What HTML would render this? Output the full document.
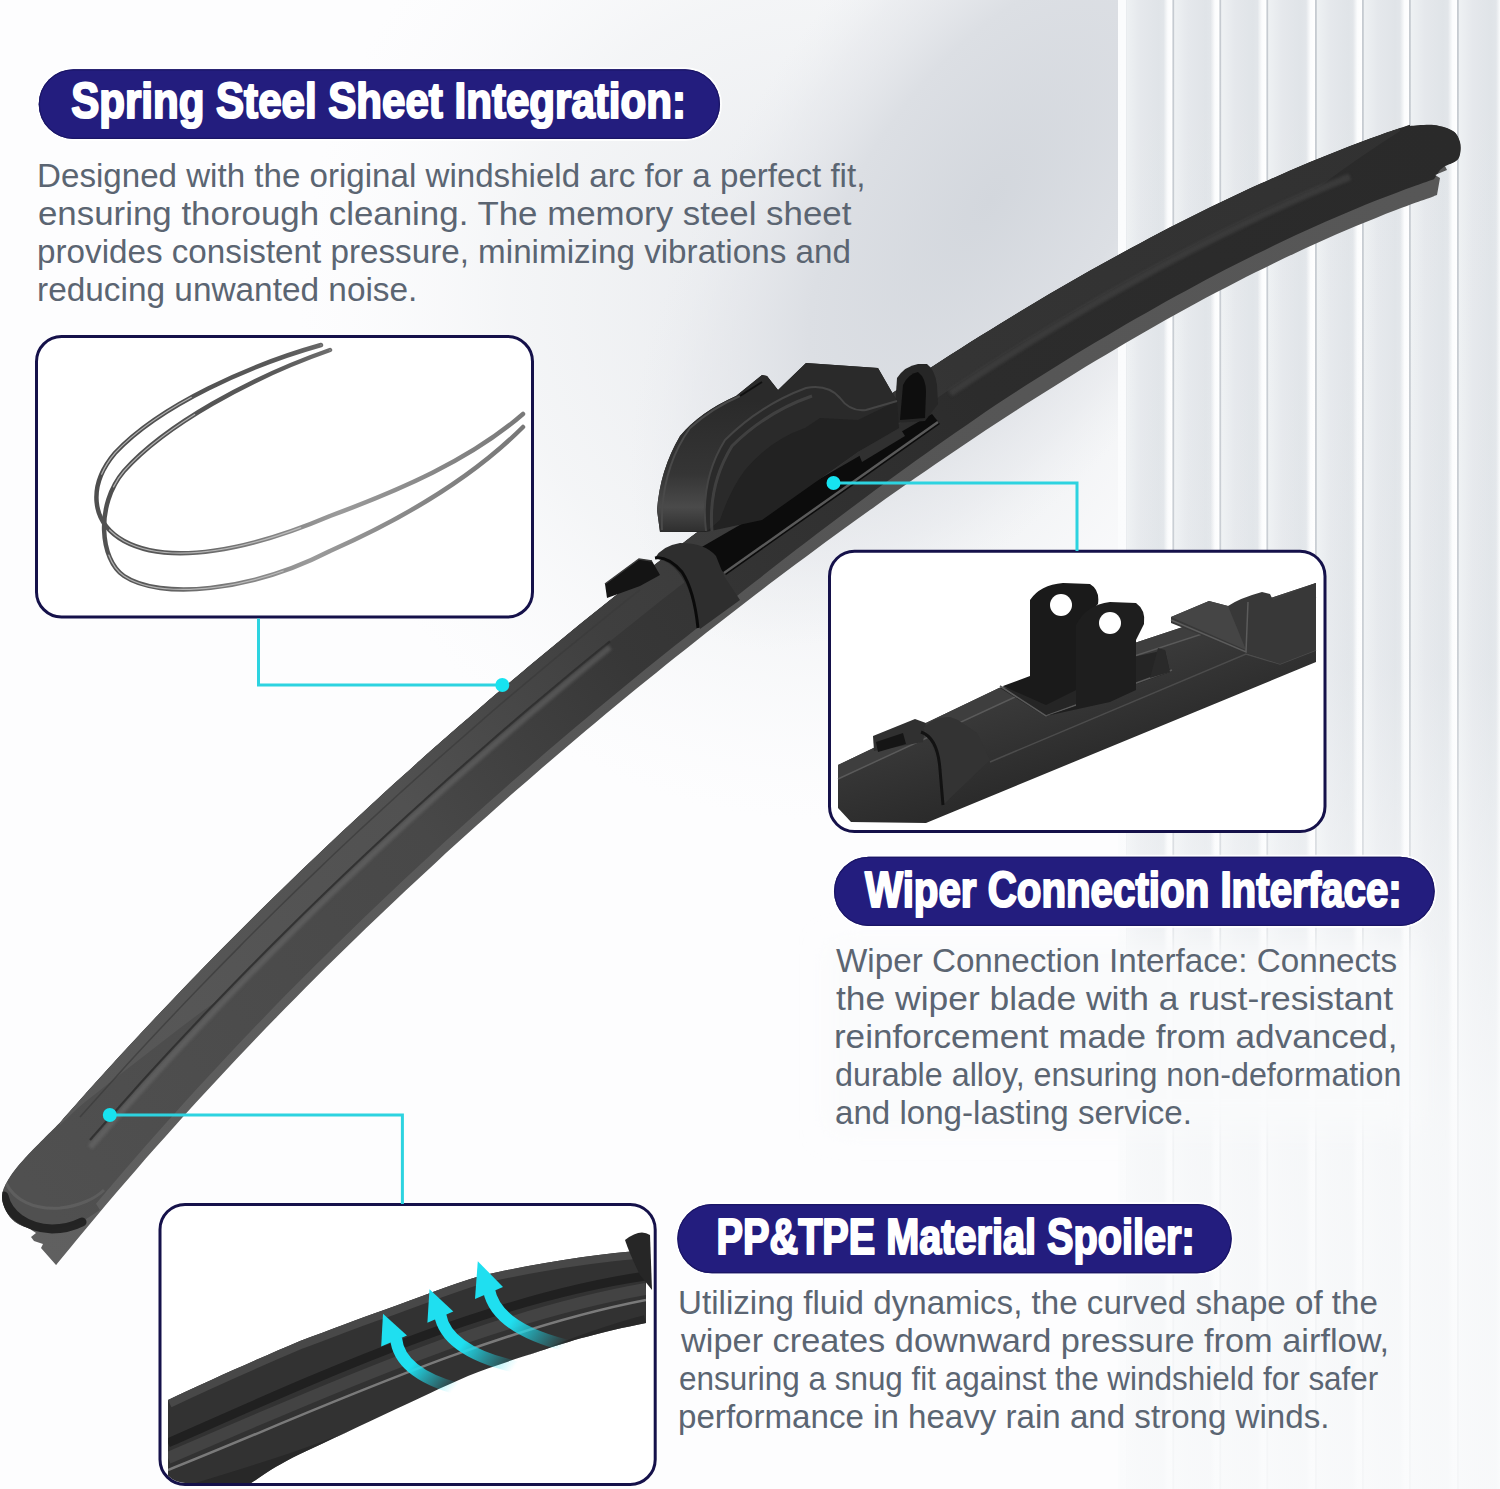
<!DOCTYPE html>
<html><head><meta charset="utf-8">
<style>
html,body{margin:0;padding:0;}
body{width:1500px;height:1489px;overflow:hidden;position:relative;background:#fdfdfe;font-family:"Liberation Sans",sans-serif;}
svg{position:absolute;left:0;top:0;}
.h{font:700 50px "Liberation Sans",sans-serif;fill:#ffffff;stroke:#ffffff;stroke-width:2.2px;stroke-linejoin:round;}
.b{font:400 34px "Liberation Sans",sans-serif;fill:#5b6572;}
</style></head><body>
<svg width="1500" height="1489" viewBox="0 0 1500 1489">
<defs>
 <radialGradient id="bg1" cx="0" cy="0" r="1" gradientUnits="userSpaceOnUse" gradientTransform="translate(990 200) rotate(125) scale(520 250)">
  <stop offset="0" stop-color="#d3d7dd"/><stop offset="0.5" stop-color="#dcdfe4"/><stop offset="0.8" stop-color="#e6e8ec" stop-opacity="0.6"/><stop offset="1" stop-color="#eceef1" stop-opacity="0"/>
 </radialGradient>
 <radialGradient id="bg2" cx="820" cy="300" r="520" gradientUnits="userSpaceOnUse">
  <stop offset="0" stop-color="#e6e8ec"/><stop offset="0.6" stop-color="#eef0f2" stop-opacity="0.6"/><stop offset="1" stop-color="#f6f7f9" stop-opacity="0"/>
 </radialGradient>
 <linearGradient id="flute" x1="0" y1="0" x2="47.5" y2="0" gradientUnits="userSpaceOnUse" spreadMethod="repeat">
  <stop offset="0" stop-color="#fbfcfd"/><stop offset="0.12" stop-color="#eef1f4"/><stop offset="0.5" stop-color="#dde2e8"/><stop offset="0.86" stop-color="#e9edf1"/><stop offset="0.93" stop-color="#ffffff"/><stop offset="0.955" stop-color="#b3bac3"/><stop offset="0.985" stop-color="#ffffff"/><stop offset="1" stop-color="#fbfcfd"/>
 </linearGradient>
 <pattern id="flutes" x="1127" y="0" width="47.5" height="1489" patternUnits="userSpaceOnUse">
  <rect width="47.5" height="1489" fill="url(#flute)"/>
 </pattern>
 <linearGradient id="fadeB" x1="0" y1="0" x2="0" y2="1489" gradientUnits="userSpaceOnUse">
  <stop offset="0" stop-color="#fafbfc" stop-opacity="0"/><stop offset="0.45" stop-color="#fafbfc" stop-opacity="0.1"/><stop offset="0.62" stop-color="#fafbfc" stop-opacity="0.55"/><stop offset="0.75" stop-color="#fafbfc" stop-opacity="0.82"/><stop offset="1" stop-color="#fafbfc" stop-opacity="0.9"/>
 </linearGradient>
 <linearGradient id="fadeL" x1="1120" y1="0" x2="1200" y2="0" gradientUnits="userSpaceOnUse">
  <stop offset="0" stop-color="#f7f8fa" stop-opacity="0.2"/><stop offset="1" stop-color="#f7f8fa" stop-opacity="0"/>
 </linearGradient>
 <linearGradient id="rubg" x1="40" y1="1250" x2="1440" y2="190" gradientUnits="userSpaceOnUse">
  <stop offset="0" stop-color="#606060"/><stop offset="0.5" stop-color="#555555"/><stop offset="1" stop-color="#575757"/>
 </linearGradient>
 <linearGradient id="bodyg" x1="40" y1="1200" x2="1450" y2="140" gradientUnits="userSpaceOnUse">
  <stop offset="0" stop-color="#505050"/><stop offset="0.3" stop-color="#484848"/><stop offset="0.45" stop-color="#373737"/><stop offset="0.7" stop-color="#2c2c2c"/><stop offset="1" stop-color="#2a2a2a"/>
 </linearGradient>
<linearGradient id="upfaceg" x1="40" y1="1200" x2="1450" y2="140" gradientUnits="userSpaceOnUse">
  <stop offset="0" stop-color="#5a5a5a"/><stop offset="0.3" stop-color="#515151"/><stop offset="0.45" stop-color="#3f3f3f"/><stop offset="0.7" stop-color="#343434"/><stop offset="1" stop-color="#313131"/>
 </linearGradient>
 <linearGradient id="flutefill" x1="0" y1="0" x2="1" y2="0">
  <stop offset="0" stop-color="#eef1f3"/><stop offset="0.3" stop-color="#e5e8ec"/><stop offset="0.7" stop-color="#e0e4e8"/><stop offset="1" stop-color="#e6e9ed"/>
 </linearGradient>
 <linearGradient id="fluteW" x1="0" y1="0" x2="1" y2="0">
  <stop offset="0" stop-color="#fbfcfd" stop-opacity="0"/><stop offset="0.5" stop-color="#fbfcfd"/><stop offset="1" stop-color="#ffffff"/>
 </linearGradient>
<filter id="blur14" x="-20%" y="-40%" width="140%" height="180%"><feGaussianBlur stdDeviation="14"/></filter>
<filter id="blur2" x="-10%" y="-10%" width="120%" height="120%"><feGaussianBlur stdDeviation="1.8"/></filter>
</defs>
<rect width="1500" height="1489" fill="#fdfdfe"/>
<rect width="1500" height="1489" fill="url(#bg2)"/>
<rect width="1500" height="1489" fill="url(#bg1)"/>
<rect x="1120" y="0" width="380" height="1489" fill="#e9ecef"/>
<rect x="1127.0" y="0" width="45.5" height="1489" fill="url(#flutefill)"/>
<rect x="1163.5" y="0" width="9" height="1489" fill="url(#fluteW)"/>
<rect x="1174.5" y="0" width="4" height="1489" fill="#f3f5f7"/>
<rect x="1172.5" y="0" width="1.8" height="1489" fill="#c6cbd1"/>
<rect x="1174.5" y="0" width="45.0" height="1489" fill="url(#flutefill)"/>
<rect x="1210.5" y="0" width="9" height="1489" fill="url(#fluteW)"/>
<rect x="1221.5" y="0" width="4" height="1489" fill="#f3f5f7"/>
<rect x="1219.5" y="0" width="1.8" height="1489" fill="#c6cbd1"/>
<rect x="1221.5" y="0" width="45.0" height="1489" fill="url(#flutefill)"/>
<rect x="1257.5" y="0" width="9" height="1489" fill="url(#fluteW)"/>
<rect x="1268.5" y="0" width="4" height="1489" fill="#f3f5f7"/>
<rect x="1266.5" y="0" width="1.8" height="1489" fill="#c6cbd1"/>
<rect x="1268.5" y="0" width="46.5" height="1489" fill="url(#flutefill)"/>
<rect x="1306.0" y="0" width="9" height="1489" fill="url(#fluteW)"/>
<rect x="1317.0" y="0" width="4" height="1489" fill="#f3f5f7"/>
<rect x="1315.0" y="0" width="1.8" height="1489" fill="#c6cbd1"/>
<rect x="1317.0" y="0" width="45.0" height="1489" fill="url(#flutefill)"/>
<rect x="1353.0" y="0" width="9" height="1489" fill="url(#fluteW)"/>
<rect x="1364.0" y="0" width="4" height="1489" fill="#f3f5f7"/>
<rect x="1362.0" y="0" width="1.8" height="1489" fill="#c6cbd1"/>
<rect x="1364.0" y="0" width="45.0" height="1489" fill="url(#flutefill)"/>
<rect x="1400.0" y="0" width="9" height="1489" fill="url(#fluteW)"/>
<rect x="1411.0" y="0" width="4" height="1489" fill="#f3f5f7"/>
<rect x="1409.0" y="0" width="1.8" height="1489" fill="#c6cbd1"/>
<rect x="1411.0" y="0" width="46.0" height="1489" fill="url(#flutefill)"/>
<rect x="1448.0" y="0" width="9" height="1489" fill="url(#fluteW)"/>
<rect x="1459.0" y="0" width="4" height="1489" fill="#f3f5f7"/>
<rect x="1457.0" y="0" width="1.8" height="1489" fill="#c6cbd1"/>
<rect x="1459.0" y="0" width="46.0" height="1489" fill="url(#flutefill)"/>
<rect x="1496.0" y="0" width="9" height="1489" fill="url(#fluteW)"/>
<rect x="1507.0" y="0" width="4" height="1489" fill="#f3f5f7"/>
<rect x="1505.0" y="0" width="1.8" height="1489" fill="#c6cbd1"/>
<rect x="1118" y="0" width="8" height="1489" fill="#fbfcfd"/>
<rect x="1120" y="0" width="380" height="1489" fill="url(#fadeB)"/>
<g filter="url(#blur14)" fill="#fafbfc">
 <rect x="830" y="945" width="585" height="185" opacity="0.9"/>
</g>
<path d="M30.0,1229.0 C27.5,1227.8 19.0,1225.0 15.0,1222.0 C11.0,1219.0 8.2,1215.3 6.0,1211.0 C3.8,1206.7 1.7,1201.2 2.0,1196.0 C2.3,1190.8 4.2,1186.3 8.0,1180.0 C11.8,1173.7 16.3,1167.6 25.0,1158.0 C33.7,1148.4 54.2,1128.4 60.0,1122.4 L60.0,1122.4 C63.3,1118.7 73.3,1107.3 80.0,1099.8 C86.7,1092.3 93.3,1084.9 100.0,1077.5 C106.7,1070.2 113.3,1062.9 120.0,1055.6 C126.7,1048.3 133.3,1041.1 140.0,1034.0 C146.7,1026.8 153.3,1019.7 160.0,1012.7 C166.7,1005.6 173.3,998.6 180.0,991.7 C186.7,984.7 193.3,977.8 200.0,970.9 C206.7,964.1 213.3,957.3 220.0,950.5 C226.7,943.8 233.3,937.0 240.0,930.4 C246.7,923.7 253.3,917.1 260.0,910.5 C266.7,903.9 273.3,897.4 280.0,890.9 C286.7,884.4 293.3,877.9 300.0,871.5 C306.7,865.1 313.3,858.7 320.0,852.4 C326.7,846.1 333.3,839.8 340.0,833.5 C346.7,827.3 353.3,821.0 360.0,814.9 C366.7,808.7 373.3,802.6 380.0,796.5 C386.7,790.4 393.3,784.3 400.0,778.3 C406.7,772.3 413.3,766.3 420.0,760.3 C426.7,754.4 433.3,748.5 440.0,742.6 C446.7,736.7 453.3,730.9 460.0,725.1 C466.7,719.3 473.3,713.5 480.0,707.7 C486.7,702.0 493.3,696.3 500.0,690.6 C506.7,684.9 513.3,679.3 520.0,673.7 C526.7,668.1 533.3,662.5 540.0,657.0 C546.7,651.4 553.3,645.9 560.0,640.4 C566.7,635.0 573.3,629.5 580.0,624.1 C586.7,618.7 593.3,613.3 600.0,608.0 C606.7,602.6 613.3,597.3 620.0,592.0 C626.7,586.7 633.3,581.4 640.0,576.2 C646.7,571.0 653.3,565.8 660.0,560.6 C666.7,555.4 673.3,550.3 680.0,545.2 C686.7,540.1 693.3,535.0 700.0,530.0 C706.7,524.9 713.3,519.9 720.0,514.9 C726.7,509.9 733.3,505.0 740.0,500.0 C746.7,495.1 753.3,490.2 760.0,485.4 C766.7,480.5 773.3,475.7 780.0,470.9 C786.7,466.0 793.3,461.3 800.0,456.5 C806.7,451.8 813.3,447.1 820.0,442.4 C826.7,437.7 833.3,433.1 840.0,428.4 C846.7,423.8 853.3,419.2 860.0,414.7 C866.7,410.1 873.3,405.6 880.0,401.1 C886.7,396.6 893.3,392.1 900.0,387.7 C906.7,383.3 913.3,378.9 920.0,374.5 C926.7,370.1 933.3,365.8 940.0,361.5 C946.7,357.2 953.3,352.9 960.0,348.7 C966.7,344.5 973.3,340.3 980.0,336.1 C986.7,331.9 993.3,327.8 1000.0,323.7 C1006.7,319.6 1013.3,315.5 1020.0,311.5 C1026.7,307.5 1033.3,303.5 1040.0,299.6 C1046.7,295.6 1053.3,291.7 1060.0,287.8 C1066.7,283.9 1073.3,280.1 1080.0,276.3 C1086.7,272.5 1093.3,268.7 1100.0,265.0 C1106.7,261.3 1113.3,257.6 1120.0,254.0 C1126.7,250.3 1133.3,246.7 1140.0,243.2 C1146.7,239.6 1153.3,236.1 1160.0,232.6 C1166.7,229.1 1173.3,225.7 1180.0,222.3 C1186.7,218.9 1193.3,215.6 1200.0,212.3 C1206.7,209.0 1213.3,205.7 1220.0,202.5 C1226.7,199.3 1233.3,196.1 1240.0,193.0 C1246.7,189.9 1253.3,186.8 1260.0,183.8 C1266.7,180.8 1273.3,177.8 1280.0,174.9 C1286.7,172.0 1293.3,169.1 1300.0,166.3 C1306.7,163.4 1313.3,160.7 1320.0,158.0 C1326.7,155.2 1333.3,152.6 1340.0,150.0 C1346.7,147.4 1353.3,144.8 1360.0,142.3 C1366.7,139.8 1373.3,137.4 1380.0,135.0 C1386.7,132.6 1395.0,129.8 1400.0,128.1 C1405.0,126.3 1408.3,125.3 1410.0,124.7 L1410.0,126.0 C1414.0,125.8 1426.8,124.2 1434.0,125.0 C1441.2,125.8 1448.7,128.2 1453.0,131.0 C1457.3,133.8 1458.8,138.1 1460.0,142.0 C1461.2,145.9 1460.7,151.3 1460.0,154.5 C1459.3,157.7 1458.5,159.1 1456.0,161.0 C1453.5,162.9 1446.8,165.2 1445.0,166.0 L1445.0,166.0 L1447.0,170.0 L1435.0,175.0 L1440.0,178.0 L1437.0,195.0 L1434.0,196.0 L1434.0,196.2 C1431.0,197.3 1422.3,200.3 1416.0,202.6 C1409.7,204.9 1402.7,207.5 1396.0,210.1 C1389.3,212.6 1382.7,215.2 1376.0,217.9 C1369.3,220.6 1362.7,223.3 1356.0,226.1 C1349.3,228.9 1342.7,231.7 1336.0,234.6 C1329.3,237.5 1322.7,240.5 1316.0,243.5 C1309.3,246.5 1302.7,249.6 1296.0,252.7 C1289.3,255.8 1282.7,259.0 1276.0,262.3 C1269.3,265.5 1262.7,268.8 1256.0,272.1 C1249.3,275.4 1242.7,278.8 1236.0,282.2 C1229.3,285.7 1222.7,289.1 1216.0,292.6 C1209.3,296.2 1202.7,299.7 1196.0,303.3 C1189.3,306.9 1182.7,310.6 1176.0,314.3 C1169.3,318.0 1162.7,321.7 1156.0,325.5 C1149.3,329.3 1142.7,333.1 1136.0,337.0 C1129.3,340.8 1122.7,344.7 1116.0,348.7 C1109.3,352.6 1102.7,356.6 1096.0,360.6 C1089.3,364.7 1082.7,368.7 1076.0,372.8 C1069.3,376.9 1062.7,381.0 1056.0,385.2 C1049.3,389.4 1042.7,393.6 1036.0,397.8 C1029.3,402.0 1022.7,406.3 1016.0,410.6 C1009.3,414.9 1002.7,419.3 996.0,423.6 C989.3,428.0 982.7,432.4 976.0,436.8 C969.3,441.3 962.7,445.7 956.0,450.2 C949.3,454.7 942.7,459.3 936.0,463.8 C929.3,468.4 922.7,473.0 916.0,477.6 C909.3,482.3 902.7,486.9 896.0,491.6 C889.3,496.3 882.7,501.0 876.0,505.7 C869.3,510.5 862.7,515.3 856.0,520.1 C849.3,524.9 842.7,529.7 836.0,534.6 C829.3,539.4 822.7,544.3 816.0,549.2 C809.3,554.2 802.7,559.1 796.0,564.1 C789.3,569.1 782.7,574.1 776.0,579.1 C769.3,584.1 762.7,589.2 756.0,594.3 C749.3,599.4 742.7,604.5 736.0,609.7 C729.3,614.8 722.7,620.0 716.0,625.2 C709.3,630.4 702.7,635.6 696.0,640.9 C689.3,646.2 682.7,651.5 676.0,656.8 C669.3,662.1 662.7,667.5 656.0,672.9 C649.3,678.3 642.7,683.7 636.0,689.1 C629.3,694.6 622.7,700.0 616.0,705.5 C609.3,711.1 602.7,716.6 596.0,722.2 C589.3,727.7 582.7,733.3 576.0,739.0 C569.3,744.6 562.7,750.3 556.0,756.0 C549.3,761.7 542.7,767.4 536.0,773.2 C529.3,779.0 522.7,784.8 516.0,790.6 C509.3,796.4 502.7,802.3 496.0,808.2 C489.3,814.1 482.7,820.1 476.0,826.0 C469.3,832.0 462.7,838.0 456.0,844.1 C449.3,850.1 442.7,856.2 436.0,862.4 C429.3,868.5 422.7,874.7 416.0,880.9 C409.3,887.1 402.7,893.4 396.0,899.7 C389.3,905.9 382.7,912.3 376.0,918.7 C369.3,925.0 362.7,931.5 356.0,937.9 C349.3,944.4 342.7,950.9 336.0,957.5 C329.3,964.0 322.7,970.6 316.0,977.3 C309.3,983.9 302.7,990.6 296.0,997.4 C289.3,1004.1 282.7,1010.9 276.0,1017.8 C269.3,1024.7 262.7,1031.6 256.0,1038.5 C249.3,1045.5 242.7,1052.5 236.0,1059.5 C229.3,1066.6 222.7,1073.7 216.0,1080.9 C209.3,1088.1 202.7,1095.3 196.0,1102.6 C189.3,1109.9 182.7,1117.3 176.0,1124.7 C169.3,1132.1 162.7,1139.6 156.0,1147.1 C149.3,1154.6 142.7,1162.2 136.0,1169.9 C129.3,1177.6 122.7,1185.3 116.0,1193.1 C109.3,1200.9 102.7,1208.8 96.0,1216.7 C89.3,1224.7 82.7,1232.7 76.0,1240.8 C69.3,1248.8 59.3,1261.2 56.0,1265.2 L56.0,1265.0 L41.0,1248.0 L43.0,1244.0 L34.0,1241.0 L31.0,1237.0 L36.0,1233.0 Z" fill="url(#rubg)"/>
<clipPath id="bladeclip"><path d="M30.0,1229.0 C27.5,1227.8 19.0,1225.0 15.0,1222.0 C11.0,1219.0 8.2,1215.3 6.0,1211.0 C3.8,1206.7 1.7,1201.2 2.0,1196.0 C2.3,1190.8 4.2,1186.3 8.0,1180.0 C11.8,1173.7 16.3,1167.6 25.0,1158.0 C33.7,1148.4 54.2,1128.4 60.0,1122.4 L60.0,1122.4 C63.3,1118.7 73.3,1107.3 80.0,1099.8 C86.7,1092.3 93.3,1084.9 100.0,1077.5 C106.7,1070.2 113.3,1062.9 120.0,1055.6 C126.7,1048.3 133.3,1041.1 140.0,1034.0 C146.7,1026.8 153.3,1019.7 160.0,1012.7 C166.7,1005.6 173.3,998.6 180.0,991.7 C186.7,984.7 193.3,977.8 200.0,970.9 C206.7,964.1 213.3,957.3 220.0,950.5 C226.7,943.8 233.3,937.0 240.0,930.4 C246.7,923.7 253.3,917.1 260.0,910.5 C266.7,903.9 273.3,897.4 280.0,890.9 C286.7,884.4 293.3,877.9 300.0,871.5 C306.7,865.1 313.3,858.7 320.0,852.4 C326.7,846.1 333.3,839.8 340.0,833.5 C346.7,827.3 353.3,821.0 360.0,814.9 C366.7,808.7 373.3,802.6 380.0,796.5 C386.7,790.4 393.3,784.3 400.0,778.3 C406.7,772.3 413.3,766.3 420.0,760.3 C426.7,754.4 433.3,748.5 440.0,742.6 C446.7,736.7 453.3,730.9 460.0,725.1 C466.7,719.3 473.3,713.5 480.0,707.7 C486.7,702.0 493.3,696.3 500.0,690.6 C506.7,684.9 513.3,679.3 520.0,673.7 C526.7,668.1 533.3,662.5 540.0,657.0 C546.7,651.4 553.3,645.9 560.0,640.4 C566.7,635.0 573.3,629.5 580.0,624.1 C586.7,618.7 593.3,613.3 600.0,608.0 C606.7,602.6 613.3,597.3 620.0,592.0 C626.7,586.7 633.3,581.4 640.0,576.2 C646.7,571.0 653.3,565.8 660.0,560.6 C666.7,555.4 673.3,550.3 680.0,545.2 C686.7,540.1 693.3,535.0 700.0,530.0 C706.7,524.9 713.3,519.9 720.0,514.9 C726.7,509.9 733.3,505.0 740.0,500.0 C746.7,495.1 753.3,490.2 760.0,485.4 C766.7,480.5 773.3,475.7 780.0,470.9 C786.7,466.0 793.3,461.3 800.0,456.5 C806.7,451.8 813.3,447.1 820.0,442.4 C826.7,437.7 833.3,433.1 840.0,428.4 C846.7,423.8 853.3,419.2 860.0,414.7 C866.7,410.1 873.3,405.6 880.0,401.1 C886.7,396.6 893.3,392.1 900.0,387.7 C906.7,383.3 913.3,378.9 920.0,374.5 C926.7,370.1 933.3,365.8 940.0,361.5 C946.7,357.2 953.3,352.9 960.0,348.7 C966.7,344.5 973.3,340.3 980.0,336.1 C986.7,331.9 993.3,327.8 1000.0,323.7 C1006.7,319.6 1013.3,315.5 1020.0,311.5 C1026.7,307.5 1033.3,303.5 1040.0,299.6 C1046.7,295.6 1053.3,291.7 1060.0,287.8 C1066.7,283.9 1073.3,280.1 1080.0,276.3 C1086.7,272.5 1093.3,268.7 1100.0,265.0 C1106.7,261.3 1113.3,257.6 1120.0,254.0 C1126.7,250.3 1133.3,246.7 1140.0,243.2 C1146.7,239.6 1153.3,236.1 1160.0,232.6 C1166.7,229.1 1173.3,225.7 1180.0,222.3 C1186.7,218.9 1193.3,215.6 1200.0,212.3 C1206.7,209.0 1213.3,205.7 1220.0,202.5 C1226.7,199.3 1233.3,196.1 1240.0,193.0 C1246.7,189.9 1253.3,186.8 1260.0,183.8 C1266.7,180.8 1273.3,177.8 1280.0,174.9 C1286.7,172.0 1293.3,169.1 1300.0,166.3 C1306.7,163.4 1313.3,160.7 1320.0,158.0 C1326.7,155.2 1333.3,152.6 1340.0,150.0 C1346.7,147.4 1353.3,144.8 1360.0,142.3 C1366.7,139.8 1373.3,137.4 1380.0,135.0 C1386.7,132.6 1395.0,129.8 1400.0,128.1 C1405.0,126.3 1408.3,125.3 1410.0,124.7 L1410.0,126.0 C1414.0,125.8 1426.8,124.2 1434.0,125.0 C1441.2,125.8 1448.7,128.2 1453.0,131.0 C1457.3,133.8 1458.8,138.1 1460.0,142.0 C1461.2,145.9 1460.7,151.3 1460.0,154.5 C1459.3,157.7 1458.5,159.1 1456.0,161.0 C1453.5,162.9 1446.8,165.2 1445.0,166.0 L1445.0,166.0 L1447.0,170.0 L1435.0,175.0 L1440.0,178.0 L1437.0,195.0 L1434.0,196.0 L1434.0,196.2 C1431.0,197.3 1422.3,200.3 1416.0,202.6 C1409.7,204.9 1402.7,207.5 1396.0,210.1 C1389.3,212.6 1382.7,215.2 1376.0,217.9 C1369.3,220.6 1362.7,223.3 1356.0,226.1 C1349.3,228.9 1342.7,231.7 1336.0,234.6 C1329.3,237.5 1322.7,240.5 1316.0,243.5 C1309.3,246.5 1302.7,249.6 1296.0,252.7 C1289.3,255.8 1282.7,259.0 1276.0,262.3 C1269.3,265.5 1262.7,268.8 1256.0,272.1 C1249.3,275.4 1242.7,278.8 1236.0,282.2 C1229.3,285.7 1222.7,289.1 1216.0,292.6 C1209.3,296.2 1202.7,299.7 1196.0,303.3 C1189.3,306.9 1182.7,310.6 1176.0,314.3 C1169.3,318.0 1162.7,321.7 1156.0,325.5 C1149.3,329.3 1142.7,333.1 1136.0,337.0 C1129.3,340.8 1122.7,344.7 1116.0,348.7 C1109.3,352.6 1102.7,356.6 1096.0,360.6 C1089.3,364.7 1082.7,368.7 1076.0,372.8 C1069.3,376.9 1062.7,381.0 1056.0,385.2 C1049.3,389.4 1042.7,393.6 1036.0,397.8 C1029.3,402.0 1022.7,406.3 1016.0,410.6 C1009.3,414.9 1002.7,419.3 996.0,423.6 C989.3,428.0 982.7,432.4 976.0,436.8 C969.3,441.3 962.7,445.7 956.0,450.2 C949.3,454.7 942.7,459.3 936.0,463.8 C929.3,468.4 922.7,473.0 916.0,477.6 C909.3,482.3 902.7,486.9 896.0,491.6 C889.3,496.3 882.7,501.0 876.0,505.7 C869.3,510.5 862.7,515.3 856.0,520.1 C849.3,524.9 842.7,529.7 836.0,534.6 C829.3,539.4 822.7,544.3 816.0,549.2 C809.3,554.2 802.7,559.1 796.0,564.1 C789.3,569.1 782.7,574.1 776.0,579.1 C769.3,584.1 762.7,589.2 756.0,594.3 C749.3,599.4 742.7,604.5 736.0,609.7 C729.3,614.8 722.7,620.0 716.0,625.2 C709.3,630.4 702.7,635.6 696.0,640.9 C689.3,646.2 682.7,651.5 676.0,656.8 C669.3,662.1 662.7,667.5 656.0,672.9 C649.3,678.3 642.7,683.7 636.0,689.1 C629.3,694.6 622.7,700.0 616.0,705.5 C609.3,711.1 602.7,716.6 596.0,722.2 C589.3,727.7 582.7,733.3 576.0,739.0 C569.3,744.6 562.7,750.3 556.0,756.0 C549.3,761.7 542.7,767.4 536.0,773.2 C529.3,779.0 522.7,784.8 516.0,790.6 C509.3,796.4 502.7,802.3 496.0,808.2 C489.3,814.1 482.7,820.1 476.0,826.0 C469.3,832.0 462.7,838.0 456.0,844.1 C449.3,850.1 442.7,856.2 436.0,862.4 C429.3,868.5 422.7,874.7 416.0,880.9 C409.3,887.1 402.7,893.4 396.0,899.7 C389.3,905.9 382.7,912.3 376.0,918.7 C369.3,925.0 362.7,931.5 356.0,937.9 C349.3,944.4 342.7,950.9 336.0,957.5 C329.3,964.0 322.7,970.6 316.0,977.3 C309.3,983.9 302.7,990.6 296.0,997.4 C289.3,1004.1 282.7,1010.9 276.0,1017.8 C269.3,1024.7 262.7,1031.6 256.0,1038.5 C249.3,1045.5 242.7,1052.5 236.0,1059.5 C229.3,1066.6 222.7,1073.7 216.0,1080.9 C209.3,1088.1 202.7,1095.3 196.0,1102.6 C189.3,1109.9 182.7,1117.3 176.0,1124.7 C169.3,1132.1 162.7,1139.6 156.0,1147.1 C149.3,1154.6 142.7,1162.2 136.0,1169.9 C129.3,1177.6 122.7,1185.3 116.0,1193.1 C109.3,1200.9 102.7,1208.8 96.0,1216.7 C89.3,1224.7 82.7,1232.7 76.0,1240.8 C69.3,1248.8 59.3,1261.2 56.0,1265.2 L56.0,1265.0 L41.0,1248.0 L43.0,1244.0 L34.0,1241.0 L31.0,1237.0 L36.0,1233.0 Z"/></clipPath>
<g clip-path="url(#bladeclip)">
<path d="M78.5,1224.0 C73.4,1225.0 56.1,1229.2 48.0,1230.0 C39.9,1230.8 35.5,1230.3 30.0,1229.0 C24.5,1227.7 19.0,1225.0 15.0,1222.0 C11.0,1219.0 8.2,1215.3 6.0,1211.0 C3.8,1206.7 1.7,1201.2 2.0,1196.0 C2.3,1190.8 4.2,1186.3 8.0,1180.0 C11.8,1173.7 16.3,1167.6 25.0,1158.0 C33.7,1148.4 54.2,1128.4 60.0,1122.4 L60.0,1122.4 C63.3,1118.7 73.3,1107.3 80.0,1099.8 C86.7,1092.3 93.3,1084.9 100.0,1077.5 C106.7,1070.2 113.3,1062.9 120.0,1055.6 C126.7,1048.3 133.3,1041.1 140.0,1034.0 C146.7,1026.8 153.3,1019.7 160.0,1012.7 C166.7,1005.6 173.3,998.6 180.0,991.7 C186.7,984.7 193.3,977.8 200.0,970.9 C206.7,964.1 213.3,957.3 220.0,950.5 C226.7,943.8 233.3,937.0 240.0,930.4 C246.7,923.7 253.3,917.1 260.0,910.5 C266.7,903.9 273.3,897.4 280.0,890.9 C286.7,884.4 293.3,877.9 300.0,871.5 C306.7,865.1 313.3,858.7 320.0,852.4 C326.7,846.1 333.3,839.8 340.0,833.5 C346.7,827.3 353.3,821.0 360.0,814.9 C366.7,808.7 373.3,802.6 380.0,796.5 C386.7,790.4 393.3,784.3 400.0,778.3 C406.7,772.3 413.3,766.3 420.0,760.3 C426.7,754.4 433.3,748.5 440.0,742.6 C446.7,736.7 453.3,730.9 460.0,725.1 C466.7,719.3 473.3,713.5 480.0,707.7 C486.7,702.0 493.3,696.3 500.0,690.6 C506.7,684.9 513.3,679.3 520.0,673.7 C526.7,668.1 533.3,662.5 540.0,657.0 C546.7,651.4 553.3,645.9 560.0,640.4 C566.7,635.0 573.3,629.5 580.0,624.1 C586.7,618.7 593.3,613.3 600.0,608.0 C606.7,602.6 613.3,597.3 620.0,592.0 C626.7,586.7 633.3,581.4 640.0,576.2 C646.7,571.0 653.3,565.8 660.0,560.6 C666.7,555.4 673.3,550.3 680.0,545.2 C686.7,540.1 693.3,535.0 700.0,530.0 C706.7,524.9 713.3,519.9 720.0,514.9 C726.7,509.9 733.3,505.0 740.0,500.0 C746.7,495.1 753.3,490.2 760.0,485.4 C766.7,480.5 773.3,475.7 780.0,470.9 C786.7,466.0 793.3,461.3 800.0,456.5 C806.7,451.8 813.3,447.1 820.0,442.4 C826.7,437.7 833.3,433.1 840.0,428.4 C846.7,423.8 853.3,419.2 860.0,414.7 C866.7,410.1 873.3,405.6 880.0,401.1 C886.7,396.6 893.3,392.1 900.0,387.7 C906.7,383.3 913.3,378.9 920.0,374.5 C926.7,370.1 933.3,365.8 940.0,361.5 C946.7,357.2 953.3,352.9 960.0,348.7 C966.7,344.5 973.3,340.3 980.0,336.1 C986.7,331.9 993.3,327.8 1000.0,323.7 C1006.7,319.6 1013.3,315.5 1020.0,311.5 C1026.7,307.5 1033.3,303.5 1040.0,299.6 C1046.7,295.6 1053.3,291.7 1060.0,287.8 C1066.7,283.9 1073.3,280.1 1080.0,276.3 C1086.7,272.5 1093.3,268.7 1100.0,265.0 C1106.7,261.3 1113.3,257.6 1120.0,254.0 C1126.7,250.3 1133.3,246.7 1140.0,243.2 C1146.7,239.6 1153.3,236.1 1160.0,232.6 C1166.7,229.1 1173.3,225.7 1180.0,222.3 C1186.7,218.9 1193.3,215.6 1200.0,212.3 C1206.7,209.0 1213.3,205.7 1220.0,202.5 C1226.7,199.3 1233.3,196.1 1240.0,193.0 C1246.7,189.9 1253.3,186.8 1260.0,183.8 C1266.7,180.8 1273.3,177.8 1280.0,174.9 C1286.7,172.0 1293.3,169.1 1300.0,166.3 C1306.7,163.4 1313.3,160.7 1320.0,158.0 C1326.7,155.2 1333.3,152.6 1340.0,150.0 C1346.7,147.4 1353.3,144.8 1360.0,142.3 C1366.7,139.8 1373.3,137.4 1380.0,135.0 C1386.7,132.6 1395.0,129.8 1400.0,128.1 C1405.0,126.3 1408.3,125.3 1410.0,124.7 L1410.0,126.0 C1414.0,125.8 1426.8,124.2 1434.0,125.0 C1441.2,125.8 1448.7,128.2 1453.0,131.0 C1457.3,133.8 1458.8,138.1 1460.0,142.0 C1461.2,145.9 1460.7,151.3 1460.0,154.5 C1459.3,157.7 1458.5,159.1 1456.0,161.0 C1453.5,162.9 1446.8,165.2 1445.0,166.0 L1440,170 L1434.0,179.2 C1431.0,180.3 1422.3,183.2 1416.0,185.5 C1409.7,187.8 1402.7,190.3 1396.0,192.9 C1389.3,195.4 1382.7,198.0 1376.0,200.6 C1369.3,203.2 1362.7,205.9 1356.0,208.7 C1349.3,211.5 1342.7,214.3 1336.0,217.2 C1329.3,220.0 1322.7,223.0 1316.0,225.9 C1309.3,228.9 1302.7,232.0 1296.0,235.1 C1289.3,238.2 1282.7,241.3 1276.0,244.5 C1269.3,247.7 1262.7,251.0 1256.0,254.3 C1249.3,257.6 1242.7,260.9 1236.0,264.3 C1229.3,267.7 1222.7,271.1 1216.0,274.6 C1209.3,278.1 1202.7,281.6 1196.0,285.2 C1189.3,288.8 1182.7,292.4 1176.0,296.1 C1169.3,299.8 1162.7,303.5 1156.0,307.2 C1149.3,311.0 1142.7,314.8 1136.0,318.6 C1129.3,322.4 1122.7,326.3 1116.0,330.2 C1109.3,334.1 1102.7,338.1 1096.0,342.1 C1089.3,346.1 1082.7,350.1 1076.0,354.1 C1069.3,358.2 1062.7,362.3 1056.0,366.4 C1049.3,370.6 1042.7,374.8 1036.0,379.0 C1029.3,383.2 1022.7,387.4 1016.0,391.7 C1009.3,396.0 1002.7,400.3 996.0,404.7 C989.3,409.2 982.7,413.8 976.0,418.4 C969.3,423.0 962.7,427.6 956.0,432.3 C949.3,436.9 942.7,441.6 936.0,446.3 C929.3,451.1 922.7,455.8 916.0,460.6 C909.3,465.4 902.7,470.2 896.0,475.0 C889.3,479.9 882.7,484.7 876.0,489.6 C869.3,494.5 862.7,499.5 856.0,504.4 C849.3,509.4 842.7,514.4 836.0,519.4 C829.3,524.4 822.7,529.5 816.0,534.5 C809.3,539.6 802.7,544.7 796.0,549.8 C789.3,555.0 782.7,560.1 776.0,565.3 C769.3,570.5 762.7,575.7 756.0,581.0 C749.3,586.2 742.7,591.5 736.0,596.8 C729.3,602.1 722.7,607.5 716.0,612.8 C709.3,618.2 702.7,623.6 696.0,628.9 C689.3,634.2 682.7,639.4 676.0,644.8 C669.3,650.1 662.7,655.4 656.0,660.8 C649.3,666.2 642.7,671.6 636.0,677.0 C629.3,682.5 622.7,687.9 616.0,693.4 C609.3,698.9 602.7,704.4 596.0,710.0 C589.3,715.6 582.7,721.2 576.0,726.8 C569.3,732.4 562.7,738.1 556.0,743.8 C549.3,749.4 542.7,755.2 536.0,760.9 C529.3,766.7 522.7,772.5 516.0,778.3 C509.3,784.1 502.7,790.0 496.0,795.9 C489.3,801.8 482.7,807.7 476.0,813.7 C469.3,819.7 462.7,825.7 456.0,831.7 C449.3,837.8 442.7,843.8 436.0,850.0 C429.3,856.1 422.7,862.2 416.0,868.5 C409.3,874.7 402.7,880.9 396.0,887.2 C389.3,893.5 382.7,899.8 376.0,906.2 C369.3,912.5 362.7,918.9 356.0,925.4 C349.3,931.9 342.7,938.4 336.0,944.9 C329.3,951.5 322.7,958.1 316.0,964.7 C309.3,971.3 302.7,978.0 296.0,984.8 C289.3,991.5 282.7,998.3 276.0,1005.1 C269.3,1012.0 262.7,1018.9 256.0,1025.8 C249.3,1032.8 242.7,1039.8 236.0,1046.8 C229.3,1053.9 222.7,1061.0 216.0,1068.2 C209.3,1075.3 202.7,1082.6 196.0,1089.8 C189.3,1097.1 182.7,1104.5 176.0,1111.9 C169.3,1119.3 162.7,1126.7 156.0,1134.3 C149.3,1141.8 142.7,1149.4 136.0,1157.0 C129.3,1164.7 122.7,1172.4 116.0,1180.2 C109.3,1188.0 99.3,1199.9 96.0,1203.8 L100,1210 L78.5,1224 Z" fill="url(#bodyg)"/>
<path d="M60.0,1122.4 C63.3,1118.7 73.3,1107.3 80.0,1099.8 C86.7,1092.3 93.3,1084.9 100.0,1077.5 C106.7,1070.2 113.3,1062.9 120.0,1055.6 C126.7,1048.3 133.3,1041.1 140.0,1034.0 C146.7,1026.8 153.3,1019.7 160.0,1012.7 C166.7,1005.6 173.3,998.6 180.0,991.7 C186.7,984.7 193.3,977.8 200.0,970.9 C206.7,964.1 213.3,957.3 220.0,950.5 C226.7,943.8 233.3,937.0 240.0,930.4 C246.7,923.7 253.3,917.1 260.0,910.5 C266.7,903.9 273.3,897.4 280.0,890.9 C286.7,884.4 293.3,877.9 300.0,871.5 C306.7,865.1 313.3,858.7 320.0,852.4 C326.7,846.1 333.3,839.8 340.0,833.5 C346.7,827.3 353.3,821.0 360.0,814.9 C366.7,808.7 373.3,802.6 380.0,796.5 C386.7,790.4 393.3,784.3 400.0,778.3 C406.7,772.3 413.3,766.3 420.0,760.3 C426.7,754.4 433.3,748.5 440.0,742.6 C446.7,736.7 453.3,730.9 460.0,725.1 C466.7,719.3 473.3,713.5 480.0,707.7 C486.7,702.0 493.3,696.3 500.0,690.6 C506.7,684.9 513.3,679.3 520.0,673.7 C526.7,668.1 533.3,662.5 540.0,657.0 C546.7,651.4 553.3,645.9 560.0,640.4 C566.7,635.0 573.3,629.5 580.0,624.1 C586.7,618.7 593.3,613.3 600.0,608.0 C606.7,602.6 613.3,597.3 620.0,592.0 C626.7,586.7 633.3,581.4 640.0,576.2 C646.7,571.0 653.3,565.8 660.0,560.6 C666.7,555.4 673.3,550.3 680.0,545.2 C686.7,540.1 693.3,535.0 700.0,530.0 C706.7,524.9 713.3,519.9 720.0,514.9 C726.7,509.9 733.3,505.0 740.0,500.0 C746.7,495.1 753.3,490.2 760.0,485.4 C766.7,480.5 773.3,475.7 780.0,470.9 C786.7,466.0 793.3,461.3 800.0,456.5 C806.7,451.8 813.3,447.1 820.0,442.4 C826.7,437.7 833.3,433.1 840.0,428.4 C846.7,423.8 853.3,419.2 860.0,414.7 C866.7,410.1 873.3,405.6 880.0,401.1 C886.7,396.6 893.3,392.1 900.0,387.7 C906.7,383.3 913.3,378.9 920.0,374.5 C926.7,370.1 933.3,365.8 940.0,361.5 C946.7,357.2 953.3,352.9 960.0,348.7 C966.7,344.5 973.3,340.3 980.0,336.1 C986.7,331.9 993.3,327.8 1000.0,323.7 C1006.7,319.6 1013.3,315.5 1020.0,311.5 C1026.7,307.5 1033.3,303.5 1040.0,299.6 C1046.7,295.6 1053.3,291.7 1060.0,287.8 C1066.7,283.9 1073.3,280.1 1080.0,276.3 C1086.7,272.5 1093.3,268.7 1100.0,265.0 C1106.7,261.3 1113.3,257.6 1120.0,254.0 C1126.7,250.3 1133.3,246.7 1140.0,243.2 C1146.7,239.6 1153.3,236.1 1160.0,232.6 C1166.7,229.1 1173.3,225.7 1180.0,222.3 C1186.7,218.9 1193.3,215.6 1200.0,212.3 C1206.7,209.0 1213.3,205.7 1220.0,202.5 C1226.7,199.3 1233.3,196.1 1240.0,193.0 C1246.7,189.9 1253.3,186.8 1260.0,183.8 C1266.7,180.8 1273.3,177.8 1280.0,174.9 C1286.7,172.0 1293.3,169.1 1300.0,166.3 C1306.7,163.4 1313.3,160.7 1320.0,158.0 C1326.7,155.2 1333.3,152.6 1340.0,150.0 C1346.7,147.4 1353.3,144.8 1360.0,142.3 C1366.7,139.8 1373.3,137.4 1380.0,135.0 C1386.7,132.6 1396.7,129.2 1400.0,128.1 L1400.0,131.0 L1400.0,131.0 C1396.7,133.2 1386.7,139.6 1380.0,144.0 C1373.3,148.4 1366.7,152.9 1360.0,157.4 C1353.3,162.0 1346.7,166.6 1340.0,171.4 C1333.3,176.1 1326.7,181.9 1320.0,185.8 C1313.3,189.6 1306.7,191.5 1300.0,194.4 C1293.3,197.3 1286.7,200.3 1280.0,203.3 C1273.3,206.4 1266.7,209.4 1260.0,212.6 C1253.3,215.7 1246.7,218.9 1240.0,222.1 C1233.3,225.3 1226.7,228.6 1220.0,231.9 C1213.3,235.2 1206.7,238.6 1200.0,242.0 C1193.3,245.4 1186.7,248.9 1180.0,252.4 C1173.3,255.9 1166.7,259.4 1160.0,263.0 C1153.3,266.6 1146.7,270.2 1140.0,273.9 C1133.3,277.6 1126.7,281.3 1120.0,285.0 C1113.3,288.8 1106.7,292.6 1100.0,296.4 C1093.3,300.2 1086.7,304.1 1080.0,308.0 C1073.3,311.9 1066.7,315.8 1060.0,319.8 C1053.3,323.8 1046.7,327.8 1040.0,331.9 C1033.3,335.9 1026.7,340.0 1020.0,344.1 C1013.3,348.2 1006.7,352.4 1000.0,356.6 C993.3,360.8 986.7,365.2 980.0,369.5 C973.3,373.9 966.7,378.2 960.0,382.6 C953.3,387.0 946.7,391.5 940.0,395.9 C933.3,400.4 926.7,404.9 920.0,409.5 C913.3,414.0 906.7,418.6 900.0,423.2 C893.3,427.8 886.7,432.4 880.0,437.0 C873.3,441.7 866.7,446.4 860.0,451.1 C853.3,455.8 846.7,460.6 840.0,465.4 C833.3,470.2 826.7,475.0 820.0,479.8 C813.3,484.7 806.7,489.5 800.0,494.4 C793.3,499.3 786.7,504.3 780.0,509.2 C773.3,514.2 766.7,519.2 760.0,524.2 C753.3,529.2 746.7,534.3 740.0,539.4 C733.3,544.4 726.7,549.6 720.0,554.7 C713.3,559.8 706.7,565.0 700.0,570.2 C693.3,575.4 686.7,580.5 680.0,585.7 C673.3,590.9 666.7,596.1 660.0,601.3 C653.3,606.6 646.7,611.9 640.0,617.2 C633.3,622.5 626.7,627.8 620.0,633.2 C613.3,638.6 606.7,644.0 600.0,649.4 C593.3,654.9 586.7,660.3 580.0,665.8 C573.3,671.3 566.7,676.8 560.0,682.4 C553.3,688.0 546.7,693.6 540.0,699.2 C533.3,704.8 526.7,710.5 520.0,716.2 C513.3,721.9 506.7,727.6 500.0,733.4 C493.3,739.1 486.7,744.9 480.0,750.7 C473.3,756.6 466.7,762.4 460.0,768.3 C453.3,774.2 446.7,780.2 440.0,786.2 C433.3,792.1 426.7,798.1 420.0,804.2 C413.3,810.2 406.7,816.3 400.0,822.5 C393.3,828.6 386.7,834.7 380.0,840.9 C373.3,847.2 366.7,853.4 360.0,859.7 C353.3,866.0 346.7,872.3 340.0,878.7 C333.3,885.0 326.7,891.4 320.0,897.9 C313.3,904.3 306.7,910.8 300.0,917.4 C293.3,923.9 286.7,930.5 280.0,937.2 C273.3,943.8 266.7,950.5 260.0,957.2 C253.3,963.9 246.7,970.7 240.0,977.5 C233.3,984.3 226.7,992.2 220.0,998.1 C213.3,1004.1 206.7,1008.0 200.0,1013.0 C193.3,1018.0 186.7,1023.1 180.0,1028.1 C173.3,1033.2 166.7,1038.3 160.0,1043.4 C153.3,1048.5 146.7,1053.7 140.0,1058.9 C133.3,1064.1 126.7,1069.3 120.0,1074.5 C113.3,1079.7 106.7,1085.0 100.0,1090.3 C93.3,1095.6 86.7,1100.5 80.0,1106.3 C73.3,1112.1 63.3,1121.9 60.0,1125.1 Z" fill="url(#upfaceg)"/>
<path d="M4,1196 C8,1214 26,1228 52,1229 C64,1229 74,1226 82,1222" fill="none" stroke="#1e1e1e" stroke-width="9" stroke-linecap="round" opacity="0.9"/>
<path d="M6,1183 C14,1200 34,1210 60,1208 C80,1206 96,1198 104,1190" fill="none" stroke="#6e6e6e" stroke-width="3" opacity="0.45"/>
<path d="M80.0,1117.1 C86.7,1109.6 106.7,1087.1 120.0,1072.4 C133.3,1057.7 146.7,1043.3 160.0,1029.1 C173.3,1014.8 186.7,1000.8 200.0,987.0 C213.3,973.2 226.7,959.5 240.0,946.1 C253.3,932.6 266.7,919.4 280.0,906.3 C293.3,893.2 306.7,880.3 320.0,867.6 C333.3,854.8 346.7,842.2 360.0,829.8 C373.3,817.4 386.7,805.1 400.0,793.0 C413.3,780.9 426.7,768.9 440.0,757.1 C453.3,745.3 466.7,733.6 480.0,722.1 C493.3,710.5 506.7,699.1 520.0,687.9 C533.3,676.6 546.7,665.4 560.0,654.4 C573.3,643.4 586.7,632.5 600.0,621.8 C613.3,611.0 633.3,595.2 640.0,589.9" fill="none" stroke="#3a3a3a" stroke-width="1.5" opacity="0.7"/>
<path d="M90.0,1140.1 C96.7,1132.5 116.7,1109.7 130.0,1094.9 C143.3,1080.0 156.7,1065.4 170.0,1051.1 C183.3,1036.7 196.7,1022.5 210.0,1008.6 C223.3,994.6 236.7,980.9 250.0,967.3 C263.3,953.8 276.7,940.4 290.0,927.3 C303.3,914.1 316.7,901.1 330.0,888.3 C343.3,875.4 356.7,862.8 370.0,850.3 C383.3,837.8 396.7,825.5 410.0,813.3 C423.3,801.1 436.7,789.1 450.0,777.2 C463.3,765.4 476.7,753.6 490.0,742.0 C503.3,730.4 516.7,719.0 530.0,707.7 C543.3,696.4 556.7,685.2 570.0,674.1 C583.3,663.0 603.3,646.8 610.0,641.3" fill="none" stroke="#2a2a2a" stroke-width="2.2" opacity="0.85"/>
<path d="M90.0,1147.4 C96.7,1139.8 116.7,1116.9 130.0,1102.0 C143.3,1087.1 156.7,1072.5 170.0,1058.0 C183.3,1043.6 196.7,1029.4 210.0,1015.4 C223.3,1001.4 236.7,987.6 250.0,974.0 C263.3,960.4 276.7,947.1 290.0,933.8 C303.3,920.6 316.7,907.6 330.0,894.7 C343.3,881.9 356.7,869.2 370.0,856.7 C383.3,844.2 396.7,831.8 410.0,819.6 C423.3,807.4 436.7,795.3 450.0,783.4 C463.3,771.5 476.7,759.8 490.0,748.2 C503.3,736.5 516.7,725.1 530.0,713.7 C543.3,702.4 556.7,691.2 570.0,680.1 C583.3,669.0 603.3,652.7 610.0,647.2" fill="none" stroke="#747474" stroke-width="6" opacity="0.45" filter="url(#blur2)"/>
<path d="M950.0,393.4 C956.7,389.0 976.7,375.6 990.0,367.0 C1003.3,358.4 1016.7,350.1 1030.0,341.8 C1043.3,333.6 1056.7,325.6 1070.0,317.7 C1083.3,309.8 1096.7,302.0 1110.0,294.4 C1123.3,286.8 1136.7,279.4 1150.0,272.1 C1163.3,264.8 1176.7,257.7 1190.0,250.7 C1203.3,243.8 1216.7,237.0 1230.0,230.5 C1243.3,223.9 1256.7,217.5 1270.0,211.3 C1283.3,205.2 1296.7,199.2 1310.0,193.4 C1323.3,187.6 1343.3,179.5 1350.0,176.7" fill="none" stroke="#505050" stroke-width="7" opacity="0.45" filter="url(#blur2)"/>

</g>
<g id="connector">
 <!-- channel -->
 <path d="M700,548 L932,414 L940,424 L726,575 Z" fill="#0c0c0c"/>
 <path d="M724,573 L938,422" stroke="#5a5a5a" stroke-width="2.5" fill="none"/>
 <!-- left tab -->
 <path d="M605,584 L639,559 L652,561 L660,575 L640,586 L607,598 Z" fill="#141414"/>
 <path d="M605,584 L639,559 L652,561" stroke="#3a3a3a" stroke-width="1.5" fill="none"/>
 <!-- left hood -->
 <path d="M655,558 Q662,546 680,543 Q705,543 716,556 L724,576 L740,600 L700,629 L697,620 Q692,590 678,572 Q668,560 655,558 Z" fill="#2e2e2e"/>
 <path d="M655,558 Q668,556 682,572 Q694,590 698,628" stroke="#0a0a0a" stroke-width="3" fill="none"/>
 <!-- right clip -->
 <path d="M894,423 L897,378 Q905,366 918,364 L927,364 Q935,370 937,385 L938,404 L925,421 Z" fill="#262626"/>
 <path d="M900,420 L903,385 Q908,374 918,372 Q926,378 926,392 L925,418 Z" fill="#0e0e0e"/>
 <!-- connector body -->
 <path d="M660,532 L657,510 Q660,470 680,436 Q700,412 736,396 L762,375 L767,376 L778,390 L806,363 L878,368 L897,401 L899,428 L858,452 L762,520 L706,532 Z" fill="#222222"/>
 <!-- top surface lighter -->
 <path d="M736,396 L762,375 L767,376 L778,390 L806,363 L878,368 L897,401 L858,420 L820,418 L805,428 Q770,440 745,470 Q730,490 720,520 L706,532 L705,470 Q712,430 736,396 Z" fill="#2a2a2a"/>
 <linearGradient id="noseg" x1="0" y1="400" x2="0" y2="534" gradientUnits="userSpaceOnUse">
  <stop offset="0" stop-color="#2a2a2a"/><stop offset="0.55" stop-color="#353535"/><stop offset="0.8" stop-color="#4a4a4a"/><stop offset="1" stop-color="#2c2c2c"/>
 </linearGradient>
 <path d="M660,532 L657,510 Q660,470 680,436 Q700,412 736,396 L790,392 Q760,405 725,440 Q700,480 706,531 Z" fill="url(#noseg)"/>
 <path d="M662,530 Q660,470 690,428 Q712,408 740,396" stroke="#4a4a4a" stroke-width="2" fill="none"/>
 <path d="M712,531 Q708,485 732,446 Q766,412 812,396" stroke="#505050" stroke-width="3" fill="none" opacity="0.6"/>
 <path d="M706,531 Q700,480 725,440 Q760,405 806,388 Q828,384 840,398 Q850,412 866,410 L897,401" stroke="#454545" stroke-width="2" fill="none"/>
 <path d="M740,396 L762,382" stroke="#101010" stroke-width="2" fill="none"/>
 <path d="M858,452 L900,428 L905,436 L862,462 Z" fill="#303030"/>
</g>
<rect x="36.5" y="336.5" width="496" height="280.5" rx="25" fill="#ffffff" stroke="#15114a" stroke-width="3"/>
<rect x="829.5" y="551.2" width="495.5" height="280.4" rx="25" fill="#ffffff" stroke="#15114a" stroke-width="3"/>
<rect x="160" y="1204.4" width="495.2" height="280" rx="25" fill="#ffffff" stroke="#15114a" stroke-width="3"/>

<g id="box1content" fill="none" stroke-linecap="round">
 <linearGradient id="steelg" x1="90" y1="345" x2="523" y2="590" gradientUnits="userSpaceOnUse">
  <stop offset="0" stop-color="#444444"/><stop offset="0.35" stop-color="#5a5a5a"/><stop offset="0.6" stop-color="#9a9a9a"/><stop offset="1" stop-color="#606060"/>
 </linearGradient>
 <path d="M321,345 C250,365 160,405 115,453 C88,485 90,522 124,541 C170,566 250,550 330,516 C400,490 470,460 523,414" stroke="url(#steelg)" stroke-width="4.5"/>
 <path d="M330,350 C250,378 165,425 124,471 C95,505 100,560 124,576 C160,600 250,592 330,551 C400,520 470,480 523,427" stroke="url(#steelg)" stroke-width="4.5"/>
 <path d="M321,345 C250,365 160,405 115,453 C88,485 90,522 124,541 C170,566 250,550 330,516 C400,490 470,460 523,414" stroke="#c8c8c8" stroke-width="1.2" stroke-dasharray="0 140 120 60 200 400" opacity="0.8"/>
 <path d="M330,350 C250,378 165,425 124,471 C95,505 100,560 124,576 C160,600 250,592 330,551 C400,520 470,480 523,427" stroke="#c8c8c8" stroke-width="1.2" stroke-dasharray="0 150 110 70 190 400" opacity="0.8"/>
</g>

<g id="box2content">
 <clipPath id="clip2"><rect x="831" y="552.7" width="492.5" height="277.4" rx="23.5"/></clipPath>
 <linearGradient id="b2low" x1="0" y1="700" x2="0" y2="822" gradientUnits="userSpaceOnUse" gradientTransform="rotate(-18 1000 760)">
  <stop offset="0" stop-color="#3a3a3a"/><stop offset="1" stop-color="#262626"/>
 </linearGradient>
 <g clip-path="url(#clip2)">
  <!-- blade whole -->
  <path d="M838,765 L999,688 L1316,583 L1316,662 L1030,780 L926,823 L851,822 L838,808 Z" fill="url(#b2low)"/>
  <!-- top face -->
  <path d="M838,765 L999,688 L1316,583 L1316,597 L1030,690 L838,779 Z" fill="#3e3e3e"/>
  <path d="M838,779 L1030,690 L1316,597" stroke="#5a5a5a" stroke-width="1.5" fill="none"/>
  <path d="M990,762 L1246,654 L1280,664 L1316,650" stroke="#4c4c4c" stroke-width="1.5" fill="none"/>
  <!-- left clip tab -->
  <path d="M873,736 L915,719 L926,723 L923,742 L874,751 Z" fill="#303030"/>
  <path d="M876,742 L903,733 L906,744 L878,752 Z" fill="#151515"/>
  <!-- left clip hood -->
  <path d="M923,728 Q935,716 950,717 L958,720 L977,733 L990,760 L943,805 L936,760 Q932,738 923,728 Z" fill="#333333"/>
  <path d="M921,732 Q938,738 940,770 L943,805" stroke="#121212" stroke-width="3" fill="none"/>
  <!-- base plate -->
  <path d="M1000,688 L1046,717 L1170,672 L1165,650 L1120,660 L1050,690 Z" fill="#252525"/>
  <path d="M1000,686 L1046,716 L1172,670" stroke="#5a5a5a" stroke-width="1.5" fill="none"/>
  <!-- tab 1 -->
  <path d="M1003,686 L1030,676 L1030,600 Q1040,585 1063,583 L1090,584 Q1100,590 1098,604 L1085,618 L1076,640 L1076,690 L1046,705 Z" fill="#1a1a1a"/>
  <circle cx="1061" cy="605" r="11" fill="#ffffff"/>
  <!-- tab 2 -->
  <path d="M1046,716 L1076,706 L1076,625 Q1086,605 1110,602 L1136,603 Q1146,610 1144,624 L1136,640 L1136,690 L1110,702 Z" fill="#1e1e1e"/>
  <circle cx="1110" cy="623" r="11" fill="#ffffff"/>
  <path d="M1158,648 L1165,650 L1170,672 L1150,678 Z" fill="#2a2a2a"/>
  <!-- right clip -->
  <path d="M1171,617 L1209,601 L1228,606 Q1240,598 1262,592 L1270,594 L1273,600 L1316,583 L1316,650 L1280,664 L1246,653 L1171,623 Z" fill="#383838"/>
  <path d="M1171,617 L1209,601 L1228,606 L1246,650 Z" fill="#454545"/>
  <path d="M1171,620 L1246,652 L1248,602" stroke="#5c5c5c" stroke-width="1.5" fill="none"/>
 </g>
</g>

<g id="box3content">
 <clipPath id="clip3"><rect x="161.5" y="1205.9" width="492.2" height="277" rx="23.5"/></clipPath>
 <clipPath id="b3sil"><path d="M168,1400 C210,1380 260,1358 300,1341 C330,1330 360,1318 384,1310 C420,1297 450,1285 480,1276 C540,1262 600,1254 646,1250 L646,1323 C600,1332 570,1341 540,1351 C510,1361 490,1367 468,1376 C440,1388 420,1398 396,1409 C360,1426 330,1440 300,1454 C280,1464 268,1471 250,1484 L168,1484 Z"/></clipPath>
 <g clip-path="url(#clip3)">
  <g clip-path="url(#b3sil)">
   <rect x="160" y="1240" width="500" height="250" fill="#323232"/>
   <path d="M168,1400 C210,1380 260,1358 300,1341 C330,1330 360,1318 384,1310 C420,1297 450,1285 480,1276 C540,1262 600,1254 646,1250" stroke="#484848" stroke-width="16" fill="none"/>
   <path d="M168,1443 C300,1385 480,1300 646,1276" stroke="#1e1e1e" stroke-width="9" fill="none" opacity="0.9"/>
   <path d="M168,1458 C300,1402 480,1318 646,1289" stroke="#4a4a4a" stroke-width="12" fill="none" opacity="0.7"/>
   <path d="M168,1470 C300,1418 480,1332 646,1300" stroke="#7a7a7a" stroke-width="2.5" fill="none"/>
   <path d="M168,1500 C230,1480 300,1462 400,1420 C500,1375 580,1340 646,1323" stroke="#262626" stroke-width="16" fill="none" opacity="0.8"/>
  </g>
  <path d="M625,1240 Q640,1228 650,1235 L652,1290 L640,1275 Q630,1255 625,1240 Z" fill="#262626"/>
 </g>
<linearGradient id="ar1" x1="396" y1="1335" x2="456" y2="1387" gradientUnits="userSpaceOnUse"><stop offset="0" stop-color="#1fdff0"/><stop offset="0.4" stop-color="#1fdff0"/><stop offset="1" stop-color="#1fdff0" stop-opacity="0"/></linearGradient>
 <linearGradient id="ar2" x1="440" y1="1311" x2="516" y2="1365" gradientUnits="userSpaceOnUse"><stop offset="0" stop-color="#1fdff0"/><stop offset="0.4" stop-color="#1fdff0"/><stop offset="1" stop-color="#1fdff0" stop-opacity="0"/></linearGradient>
 <linearGradient id="ar3" x1="489" y1="1287" x2="566" y2="1344" gradientUnits="userSpaceOnUse"><stop offset="0" stop-color="#1fdff0"/><stop offset="0.4" stop-color="#1fdff0"/><stop offset="1" stop-color="#1fdff0" stop-opacity="0"/></linearGradient>
 <g fill="none" stroke-width="12">
  <path d="M396,1338 C398,1360 418,1378 458,1389" stroke="url(#ar1)"/>
  <path d="M440,1314 C444,1338 468,1356 516,1367" stroke="url(#ar2)"/>
  <path d="M489,1290 C494,1316 520,1334 568,1346" stroke="url(#ar3)"/>
 </g>
 <g fill="#1fdff0">
  <path d="M383,1313.7 L407,1335.4 L381.2,1346.6 Z"/>
  <path d="M429.5,1289.2 L453.3,1311.6 L427.4,1322.8 Z"/>
  <path d="M477.8,1261.2 L503,1287 L475,1299 Z"/>
 </g>
</g>
<g fill="#ffffff" opacity="0.85">
<rect x="36.7" y="67.3" width="685.3" height="73.7" rx="36.85"/>
<rect x="832.0" y="854.7" width="604.7" height="73.3" rx="36.65"/>
<rect x="675.3" y="1202.0" width="558.4" height="73.3" rx="36.65"/>
</g>
<g fill="#231d7e">
<rect x="38.7" y="69.3" width="681.3" height="69.7" rx="34.85"/>
<rect x="834.0" y="856.7" width="600.7" height="69.3" rx="34.65"/>
<rect x="677.3" y="1204.0" width="554.4" height="69.3" rx="34.65"/>
</g>
<g fill="none" stroke="#1b1666" stroke-width="1.2">
<rect x="39.3" y="69.9" width="680.1" height="68.5" rx="34.25"/>
<rect x="834.6" y="857.3" width="599.5" height="68.1" rx="34.05"/>
<rect x="677.9" y="1204.6" width="553.2" height="68.1" rx="34.05"/>
</g>
<g fill="none" stroke="#2dd3e0" stroke-width="3">
 <path d="M258.5,618.5 V685 H502"/>
 <path d="M833.5,483 H1077 V551"/>
 <path d="M110,1115 H402.4 V1204"/>
</g>
<g fill="#17e3f0">
 <circle cx="502.3" cy="685" r="7"/>
 <circle cx="833.5" cy="483" r="7"/>
 <circle cx="109.8" cy="1115" r="7"/>
</g>
<text x="71.16" y="118.00" textLength="614.75" lengthAdjust="spacingAndGlyphs" class="h">Spring Steel Sheet Integration:</text>
<text x="865.00" y="906.70" textLength="536.75" lengthAdjust="spacingAndGlyphs" class="h">Wiper Connection Interface:</text>
<text x="716.62" y="1254.00" textLength="478.07" lengthAdjust="spacingAndGlyphs" class="h">PP&amp;TPE Material Spoiler:</text>
<text x="37.05" y="187.00" textLength="828.33" lengthAdjust="spacingAndGlyphs" class="b">Designed with the original windshield arc for a perfect fit,</text>
<text x="37.98" y="225.00" textLength="813.46" lengthAdjust="spacingAndGlyphs" class="b">ensuring thorough cleaning. The memory steel sheet</text>
<text x="37.05" y="263.00" textLength="813.82" lengthAdjust="spacingAndGlyphs" class="b">provides consistent pressure, minimizing vibrations and</text>
<text x="37.04" y="301.00" textLength="380.36" lengthAdjust="spacingAndGlyphs" class="b">reducing unwanted noise.</text>
<text x="836.00" y="972.20" textLength="560.98" lengthAdjust="spacingAndGlyphs" class="b">Wiper Connection Interface: Connects</text>
<text x="836.00" y="1010.20" textLength="557.02" lengthAdjust="spacingAndGlyphs" class="b">the wiper blade with a rust-resistant</text>
<text x="833.94" y="1048.20" textLength="563.59" lengthAdjust="spacingAndGlyphs" class="b">reinforcement made from advanced,</text>
<text x="835.05" y="1086.20" textLength="566.36" lengthAdjust="spacingAndGlyphs" class="b">durable alloy, ensuring non-deformation</text>
<text x="835.03" y="1124.20" textLength="356.96" lengthAdjust="spacingAndGlyphs" class="b">and long-lasting service.</text>
<text x="678.05" y="1314.40" textLength="699.83" lengthAdjust="spacingAndGlyphs" class="b">Utilizing fluid dynamics, the curved shape of the</text>
<text x="681.01" y="1352.30" textLength="708.16" lengthAdjust="spacingAndGlyphs" class="b">wiper creates downward pressure from airflow,</text>
<text x="679.08" y="1390.20" textLength="699.22" lengthAdjust="spacingAndGlyphs" class="b">ensuring a snug fit against the windshield for safer</text>
<text x="678.05" y="1428.10" textLength="651.33" lengthAdjust="spacingAndGlyphs" class="b">performance in heavy rain and strong winds.</text>
</svg>
</body></html>
